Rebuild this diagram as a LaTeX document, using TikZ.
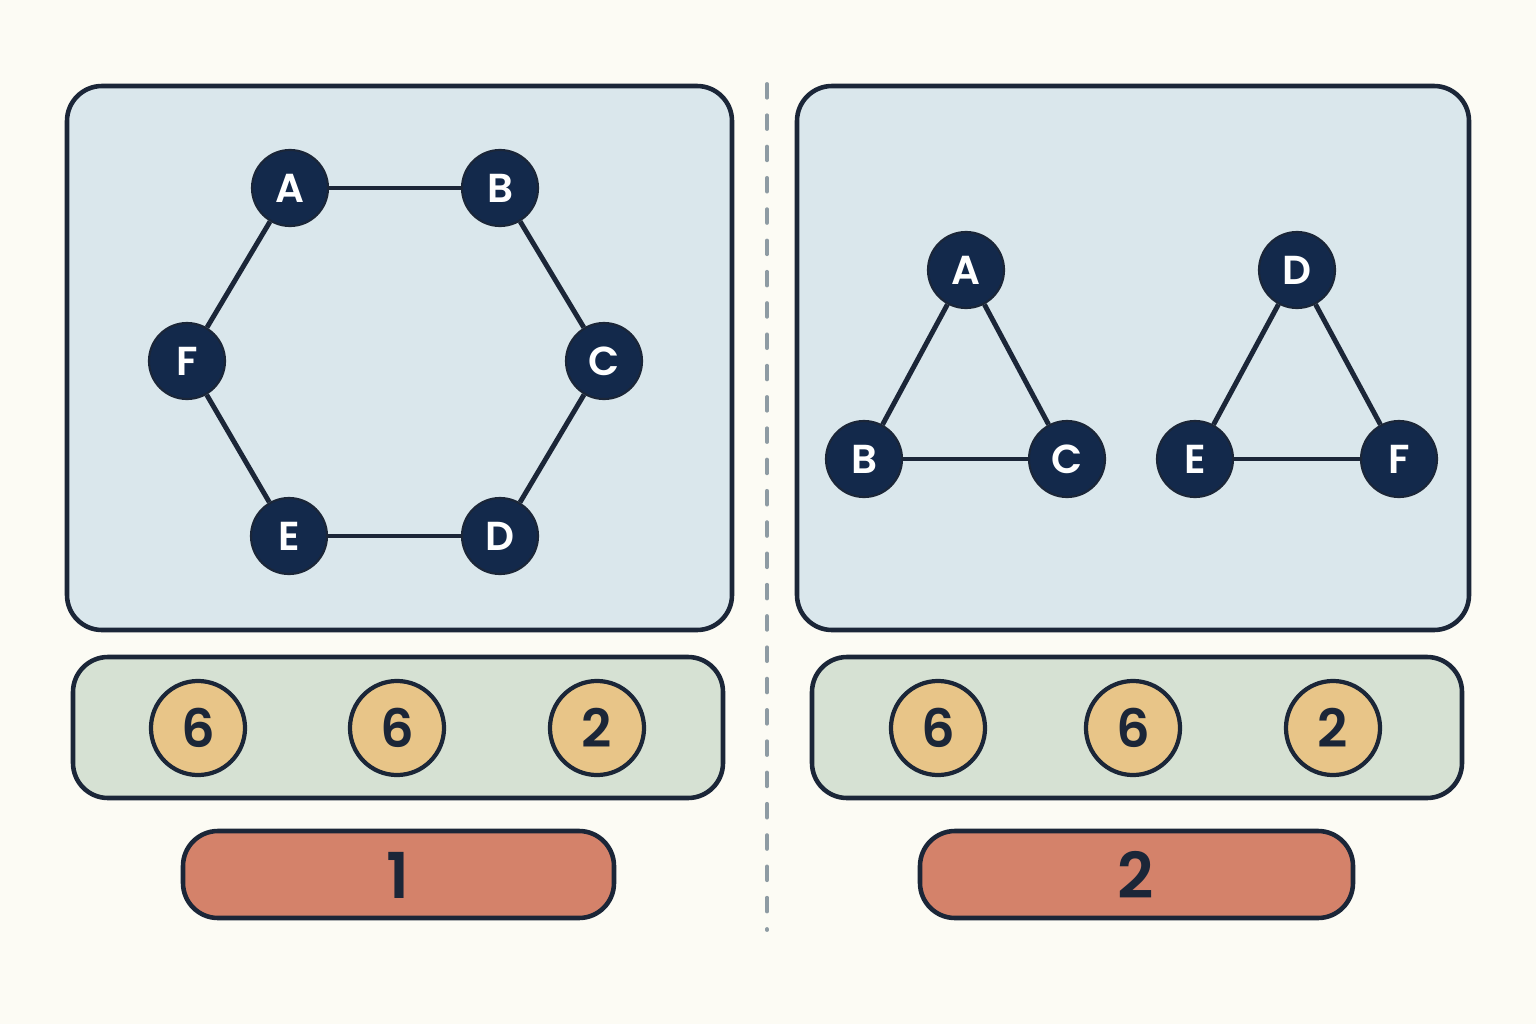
\documentclass[tikz,border=0pt]{standalone}
\usepackage{fontspec}
\setmainfont{Poppins}[BoldFont={Poppins SemiBold}]
\definecolor{bg}{HTML}{FCFBF4}
\definecolor{panel}{HTML}{DAE7EC}
\definecolor{ink}{HTML}{1B2638}
\definecolor{nodec}{HTML}{13294B}
\definecolor{greenbar}{HTML}{D6E1D3}
\definecolor{yell}{HTML}{E8C588}
\definecolor{redbar}{HTML}{D4826A}
\definecolor{dashgray}{HTML}{8E9BA3}
\begin{document}
\begin{tikzpicture}[x=0.01cm,y=-0.01cm,
  panelbox/.style={draw=ink,line width=1.3pt,fill=panel,rounded corners=0.35cm},
  barbox/.style={draw=ink,line width=1.3pt,fill=greenbar,rounded corners=0.35cm},
  resbox/.style={draw=ink,line width=1.3pt,fill=redbar,rounded corners=0.35cm},
  vert/.style={circle,fill=nodec,draw=ink,line width=0.6pt,minimum size=0.76cm,inner sep=0pt,text=white,font=\fontsize{11.5}{11.5}\selectfont\bfseries},
  edge/.style={draw=ink,line width=1.4pt},
  num/.style={circle,fill=yell,draw=ink,line width=1.2pt,minimum size=0.94cm,inner sep=0pt,text=ink,font=\fontsize{15}{15}\selectfont\bfseries},
  res/.style={text=ink,font=\fontsize{18}{18}\selectfont\bfseries}]
\fill[bg] (0,0) rectangle (1536,1024);
\useasboundingbox (0,0) rectangle (1536,1024);
% divider
\coordinate (dtop) at (767,84);
\coordinate (dbot) at (767,930);
\draw[dashgray,line width=1.1pt,line cap=round,dash pattern=on 3.9pt off 5pt] (dtop) -- (dbot);
% panels
\draw[panelbox] (67,86) rectangle (732,630);
\draw[panelbox] (797,86) rectangle (1469,630);
\draw[barbox] (73,657) rectangle (723,798);
\draw[barbox] (812,657) rectangle (1462,798);
\draw[resbox] (183,831) rectangle (614,918);
\draw[resbox] (920,831) rectangle (1353,918);
% left graph
\node[vert] (lA) at (290,188) {A};
\node[vert] (lB) at (500,188) {B};
\node[vert] (lC) at (604,361) {C};
\node[vert] (lD) at (500,536) {D};
\node[vert] (lE) at (289,536) {E};
\node[vert] (lF) at (187,361) {F};
\draw[edge] (lA) -- (lB);
\draw[edge] (lB) -- (lC);
\draw[edge] (lC) -- (lD);
\draw[edge] (lD) -- (lE);
\draw[edge] (lE) -- (lF);
\draw[edge] (lF) -- (lA);
% right graph
\node[vert] (rA) at (966,270) {A};
\node[vert] (rB) at (864,459) {B};
\node[vert] (rC) at (1067,459) {C};
\node[vert] (rD) at (1297,270) {D};
\node[vert] (rE) at (1195,459) {E};
\node[vert] (rF) at (1399,459) {F};
\draw[edge] (rA) -- (rB);
\draw[edge] (rB) -- (rC);
\draw[edge] (rC) -- (rA);
\draw[edge] (rD) -- (rE);
\draw[edge] (rE) -- (rF);
\draw[edge] (rF) -- (rD);
% numbers
\node[num] (n1) at (198,728) {6};
\node[num] (n2) at (397,728) {6};
\node[num] (n3) at (597,728) {2};
\node[num] (n4) at (938,728) {6};
\node[num] (n5) at (1133,728) {6};
\node[num] (n6) at (1333,728) {2};
% results
\node[res] (r1) at (398,875) {1};
\node[res] (r2) at (1136,875) {2};
\end{tikzpicture}
\end{document}
